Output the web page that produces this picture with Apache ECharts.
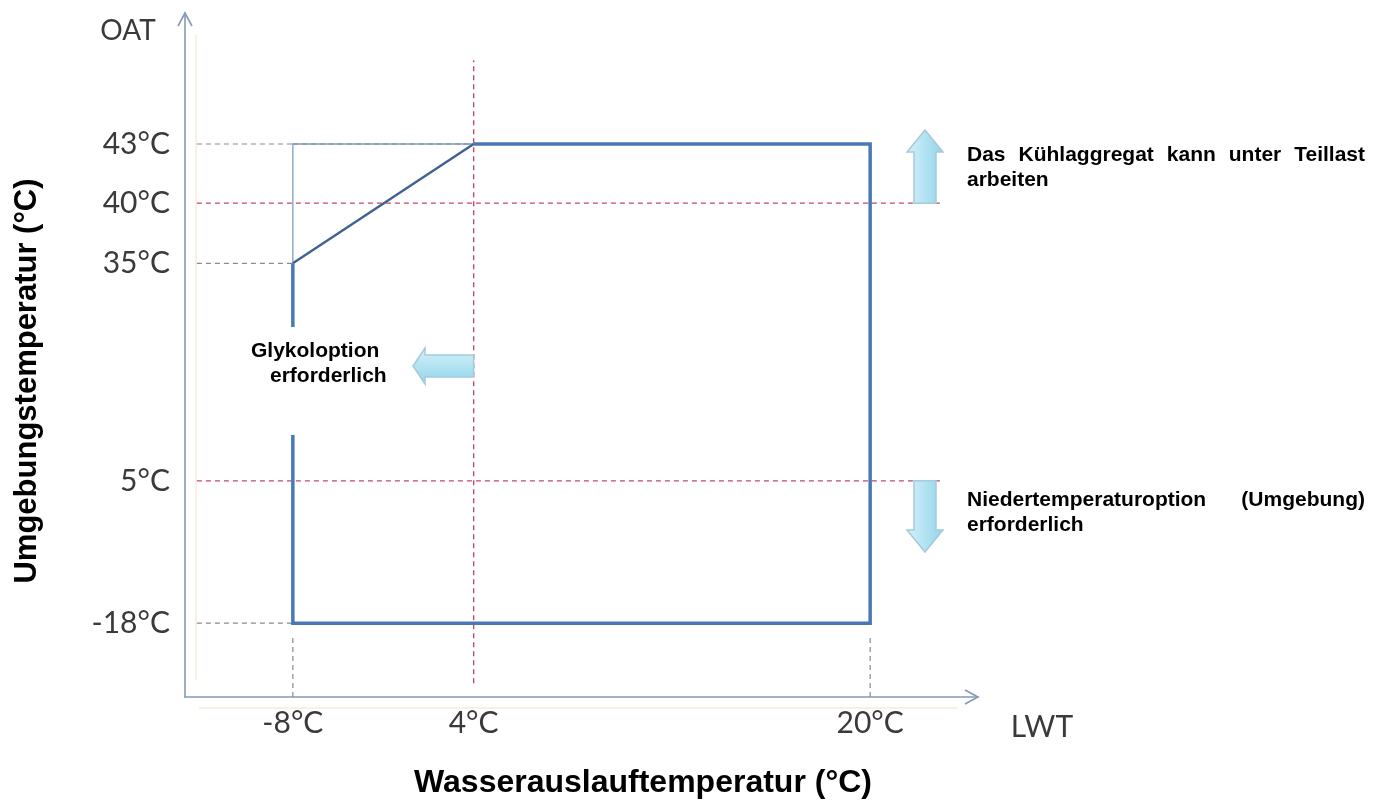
<!DOCTYPE html>
<html><head><meta charset="utf-8">
<script src="https://cdn.jsdelivr.net/npm/echarts@6/dist/echarts.min.js"></script>
<style>html,body{margin:0;padding:0;background:#fff}#c{width:1387px;height:801px}</style>
</head><body><div id="c"></div>
<script>
// ---------- data ----------
const lwtTicks = [-8, 4, 20];                       // °C (leaving water temperature)
const lwtTickLabels = ['-8°C', '4°C', '20°C'];
const oatTicks = [-18, 5, 35, 40, 43];              // °C (outside air temperature)
const oatTickLabels = ['-18°C', '5°C', '35°C', '40°C', '43°C'];
// operating envelope boundary (thick line)
const envelopeLWT = [-8, -8, 20, 20, 4];
const envelopeOAT = [35, -18, -18, 43, 43];
// sloped limit in upper left corner
const slopeLWT = [-8, 4];
const slopeOAT = [35, 43];
// thin outline of the full rectangle corner
const cornerLWT = [-8, -8, 4];
const cornerOAT = [35, 43, 43];
// reference limits (red dashed)
const glycolLWT = 4;
const partLoadOAT = 40;
const lowAmbientOAT = 5;

// ---------- schematic (non-uniform) axis layout on a 0..100 axis ----------
const lwtAxisPos = [13.6, 36.4, 86.4];
const oatAxisPos = [10.8, 31.6, 63.4, 72.2, 80.85];

function interp(v, src, dst) {
  let i = 0;
  if (v <= src[0]) i = 0;
  else if (v >= src[src.length - 1]) i = src.length - 2;
  else { while (v > src[i + 1]) i++; }
  const t = (v - src[i]) / (src[i + 1] - src[i]);
  return dst[i] + t * (dst[i + 1] - dst[i]);
}
const mx = v => interp(v, lwtTicks, lwtAxisPos);
const my = v => interp(v, oatTicks, oatAxisPos);
const pts = (xs, ys) => xs.map((x, i) => [mx(x), my(ys[i])]);

const AX0 = 1.5;  // small gap from axis line where the guide lines start

const chart = echarts.init(document.getElementById('c'), null, {renderer: 'canvas'});

function line(data, color, width, type, z) {
  return {type: 'line', data, symbol: 'none', silent: true, animation: false, z: z || 2,
    lineStyle: {color, width, type: type || 'solid', cap: 'butt', join: 'miter'}};
}
const GREY = '#8a8a8a', RED = '#c0486a', BLUE = '#4a78b6';
const dash = [5, 4];

const series = [
  // grey guide lines
  line([[AX0, my(43)], [mx(-8), my(43)]], GREY, 1.2, dash),
  line([[AX0, my(35)], [mx(-8), my(35)]], GREY, 1.2, dash),
  line([[AX0, my(-18)], [mx(-8), my(-18)]], GREY, 1.2, dash),
  line([[mx(-8), 0], [mx(-8), 8.8]], GREY, 1.2, dash),
  line([[mx(20), 0], [mx(20), 8.8]], GREY, 1.2, dash),
  // thin corner outline
  line(pts(cornerLWT, cornerOAT), '#7f9cc4', 1.3, 'solid', 3),
  line([[mx(-8), my(43)], [mx(4), my(43)]], GREY, 1.2, dash, 4),
  // red reference lines
  line([[mx(glycolLWT), 2.0], [mx(glycolLWT), 93.1]], RED, 1.4, dash, 3),
  line([[AX0, my(partLoadOAT)], [95.5, my(partLoadOAT)]], RED, 1.4, dash, 3),
  line([[AX0, my(lowAmbientOAT)], [95.5, my(lowAmbientOAT)]], RED, 1.4, dash, 3),
  // envelope
  line(pts(slopeLWT, slopeOAT), '#3f6291', 2.4, 'solid', 5),
  line(pts(envelopeLWT, envelopeOAT), BLUE, 3.5, 'solid', 6)
];

const tickFont = {fontFamily: 'Lato', fontSize: 30, color: '#3a3a3a'};

chart.setOption({
  animation: false,
  backgroundColor: '#fff',
  grid: {left: 185, right: 409, top: 13, bottom: 104, containLabel: false},
  xAxis: {type: 'value', min: 0, max: 100,
    axisLine: {show: true, onZero: false, lineStyle: {color: '#8499b6', width: 1.6}},
    axisTick: {show: false}, splitLine: {show: false},
    axisLabel: Object.assign({customValues: lwtAxisPos, margin: 11,
      formatter: v => lwtTickLabels[lwtAxisPos.indexOf(v)] || ''}, tickFont)},
  yAxis: {type: 'value', min: 0, max: 100,
    axisLine: {show: true, onZero: false, lineStyle: {color: '#8499b6', width: 1.6}},
    axisTick: {show: false}, splitLine: {show: false},
    axisLabel: Object.assign({customValues: oatAxisPos, margin: 15, padding: [9, 0, 0, 0],
      formatter: v => oatTickLabels[oatAxisPos.indexOf(v)] || ''}, tickFont)},
  series
});

// ---------- decorations ----------
const px = (x, y) => chart.convertToPixel({gridIndex: 0}, [x, y]);
const origin = px(0, 0), yTop = px(0, 100), xEnd = px(100, 0);

const arrowStroke = '#a4cbd8';
const gradH = {type: 'linear', x: 0, y: 0, x2: 1, y2: 0,
  colorStops: [{offset: 0, color: '#d6f1fa'}, {offset: 0.5, color: '#b3e3f3'}, {offset: 1, color: '#92d3ea'}]};
const gradV = {type: 'linear', x: 0, y: 0, x2: 0, y2: 1,
  colorStops: [{offset: 0, color: '#d6f1fa'}, {offset: 0.5, color: '#b3e3f3'}, {offset: 1, color: '#92d3ea'}]};

function vArrow(cx, yBase, yTip) { // vertical block arrow
  const dir = yTip < yBase ? -1 : 1;
  const headLen = 22, hw = 18, sw = 11;
  const yh = yTip - dir * headLen;
  return {type: 'polygon', silent: true, z: 20,
    shape: {points: [[cx - sw, yBase], [cx - sw, yh], [cx - hw, yh], [cx, yTip], [cx + hw, yh], [cx + sw, yh], [cx + sw, yBase]]},
    style: {fill: gradH, stroke: arrowStroke, lineWidth: 1.5}};
}
function hArrow(cy, xBase, xTip) {
  const headLen = 12, hw = 18, sw = 11;
  const xh = xTip + headLen;
  return {type: 'polygon', silent: true, z: 20,
    shape: {points: [[xBase, cy - sw], [xh, cy - sw], [xh, cy - hw], [xTip, cy], [xh, cy + hw], [xh, cy + sw], [xBase, cy + sw]]},
    style: {fill: gradV, stroke: arrowStroke, lineWidth: 1.5}};
}

const ctx = document.createElement('canvas').getContext('2d');
const noteFont = 'bold 21px "Liberation Sans", Arial, sans-serif';
ctx.font = noteFont;
function justified(words, x0, x1, y) {
  const widths = words.map(w => ctx.measureText(w).width);
  const total = widths.reduce((a, b) => a + b, 0);
  const gap = words.length > 1 ? (x1 - x0 - total) / (words.length - 1) : 0;
  let x = x0;
  return words.map((w, i) => {
    const el = {type: 'text', silent: true, z: 30, x, y,
      style: {text: w, font: noteFont, fill: '#000', align: 'left', verticalAlign: 'middle'}};
    x += widths[i] + gap;
    return el;
  });
}
function txt(text, x, y, font, fill, align, extra) {
  return Object.assign({type: 'text', silent: true, z: 30, x, y,
    style: {text, font, fill, align: align || 'left', verticalAlign: 'middle'}}, extra || {});
}

const upBase = px(0, my(partLoadOAT))[1];
const downTop = px(0, my(lowAmbientOAT))[1];
const glyX = px(mx(glycolLWT), 0)[0];
const envLeftX = px(mx(-8), 0)[0];

const graphics = [
  // faint scan artefact lines
  {type: 'line', silent: true, z: 1, shape: {x1: origin[0] + 11, y1: yTop[1] + 22, x2: origin[0] + 11, y2: origin[1] - 17}, style: {stroke: '#f7f1e4', lineWidth: 2}},
  {type: 'line', silent: true, z: 1, shape: {x1: origin[0] + 14, y1: origin[1] + 11, x2: xEnd[0] - 20, y2: origin[1] + 11}, style: {stroke: '#f7f1e4', lineWidth: 2}},
  // axis arrow heads (open chevrons)
  {type: 'polyline', silent: true, z: 10, shape: {points: [[yTop[0] - 7, yTop[1] + 13], [yTop[0], yTop[1]], [yTop[0] + 7, yTop[1] + 13]]}, style: {stroke: '#8499b6', lineWidth: 1.6, fill: null}},
  {type: 'polyline', silent: true, z: 10, shape: {points: [[xEnd[0] - 13, xEnd[1] - 7], [xEnd[0], xEnd[1]], [xEnd[0] - 13, xEnd[1] + 7]]}, style: {stroke: '#8499b6', lineWidth: 1.6, fill: null}},
  // axis names
  txt('OAT', 128, 31, '28px Lato, "Open Sans", sans-serif', '#3a3a3a', 'center'),
  txt('LWT', 1042, 727, '30px Lato, "Open Sans", sans-serif', '#3a3a3a', 'center'),
  // axis titles
  txt('Wasserauslauftemperatur (°C)', 643, 783, 'bold 32px "Liberation Sans", Arial, sans-serif', '#000', 'center'),
  txt('Umgebungstemperatur (°C)', 27, 381, 'bold 31px "Liberation Sans", Arial, sans-serif', '#000', 'center', {rotation: Math.PI / 2}),
  // arrows
  vArrow(925, upBase, 130),
  vArrow(925, downTop, 552),
  hArrow(366, glyX, 413),
  // white label box over the envelope line
  {type: 'rect', silent: true, z: 25, shape: {x: envLeftX - 43, y: 327, width: 162, height: 108}, style: {fill: '#fff'}},
  txt('Glykoloption', 251, 351, noteFont, '#000', 'left'),
  txt('erforderlich', 270, 376, noteFont, '#000', 'left')
];
graphics.push(...justified(['Das', 'Kühlaggregat', 'kann', 'unter', 'Teillast'], 967, 1365, 155));
graphics.push(txt('arbeiten', 967, 180, noteFont, '#000', 'left'));
graphics.push(...justified(['Niedertemperaturoption', '(Umgebung)'], 967, 1365, 500));
graphics.push(txt('erforderlich', 967, 525, noteFont, '#000', 'left'));

chart.setOption({graphic: graphics});
</script>
</body></html>
